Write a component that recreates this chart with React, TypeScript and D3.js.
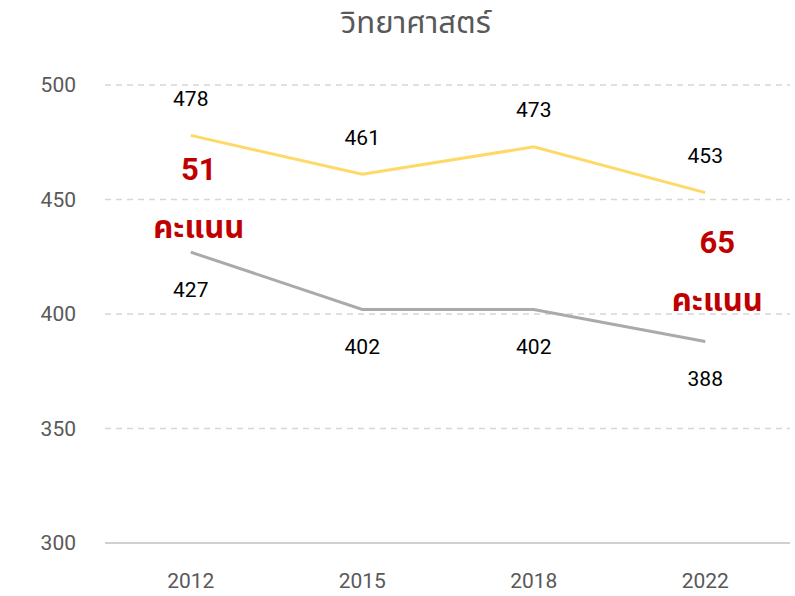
import { useEffect, useRef } from "react"
import * as d3 from "d3"

const years = ["2012", "2015", "2018", "2022"]
const topSeries = [478, 461, 473, 453]
const bottomSeries = [427, 402, 402, 388]
const yTicks = [300, 350, 400, 450, 500]
const gaps = [
  { year: "2012", mid: 452.5, value: "51" },
  { year: "2022", mid: 420.5, value: "65" },
]
const title = "วิทยาศาสตร์"
const unit = "คะแนน"

const W = 795
const H = 596
const FONT = "Roboto, 'Noto Sans', 'Noto Sans Thai', sans-serif"

export default function App() {
  const ref = useRef<SVGSVGElement>(null)

  useEffect(() => {
    const svg = d3.select(ref.current)
    svg.selectAll("*").remove()

    const x = d3.scalePoint<string>().domain(years).range([105, 791]).padding(0.5)
    const y = d3.scaleLinear().domain([300, 500]).range([543, 85])

    // titre
    svg.append("text")
      .attr("x", 416).attr("y", 22)
      .attr("dy", "0.35em")
      .attr("text-anchor", "middle")
      .attr("fill", "#595959")
      .attr("font-size", 31)
      .attr("font-family", FONT)
      .text(title)

    // grille
    svg.append("g")
      .selectAll("line")
      .data(yTicks)
      .enter()
      .append("line")
      .attr("x1", 105).attr("x2", 790)
      .attr("y1", (d) => y(d)).attr("y2", (d) => y(d))
      .attr("stroke", (d) => (d === 300 ? "#d0d0d0" : "#d6d6d6"))
      .attr("stroke-width", (d) => (d === 300 ? 2 : 1.5))
      .attr("stroke-dasharray", (d) => (d === 300 ? null : "6,5"))

    svg.append("g")
      .selectAll("text")
      .data(yTicks)
      .enter()
      .append("text")
      .attr("x", 76).attr("y", (d) => y(d))
      .attr("dy", "0.35em")
      .attr("text-anchor", "end")
      .attr("fill", "#595959")
      .attr("font-size", 21)
      .attr("font-family", FONT)
      .text((d) => d)

    svg.append("g")
      .selectAll("text")
      .data(years)
      .enter()
      .append("text")
      .attr("x", (d) => x(d)!).attr("y", 581)
      .attr("dy", "0.35em")
      .attr("text-anchor", "middle")
      .attr("fill", "#595959")
      .attr("font-size", 21)
      .attr("font-family", FONT)
      .text((d) => d)

    const line = d3.line<number>()
      .x((_, i) => x(years[i])!)
      .y((d) => y(d))

    const series = [
      { vals: topSeries, color: "#ffd966", off: -37 },
      { vals: bottomSeries, color: "#aaaaaa", off: 37 },
    ]

    series.forEach((s) => {
      svg.append("path")
        .datum(s.vals)
        .attr("d", line)
        .attr("fill", "none")
        .attr("stroke", s.color)
        .attr("stroke-width", 3)

      svg.append("g")
        .selectAll("text")
        .data(s.vals)
        .enter()
        .append("text")
        .attr("x", (_, i) => x(years[i])!)
        .attr("y", (d) => y(d) + s.off)
        .attr("dy", "0.35em")
        .attr("text-anchor", "middle")
        .attr("fill", "#000")
        .attr("font-size", 21)
        .attr("font-family", FONT)
        .text((d) => d)
    })

    // écarts
    gaps.forEach((g) => {
      const cx = x(g.year)! + (g.year === "2012" ? 8 : 12)
      const cy = y(g.mid)
      svg.append("text")
        .attr("x", cx).attr("y", cy - 25)
        .attr("dy", "0.35em")
        .attr("text-anchor", "middle")
        .attr("fill", "#c00000")
        .attr("font-size", 31)
        .attr("font-weight", "bold")
        .attr("font-family", FONT)
        .text(g.value)
      svg.append("text")
        .attr("x", cx).attr("y", cy + 33)
        .attr("dy", "0.35em")
        .attr("text-anchor", "middle")
        .attr("fill", "#c00000")
        .attr("font-size", 31)
        .attr("font-weight", "bold")
        .attr("font-family", FONT)
        .text(unit)
    })
  }, [])

  return (
    <svg
      ref={ref}
      width={W}
      height={H}
      style={{ position: "absolute", left: 0, top: 0, background: "#fff" }}
    />
  )
}
